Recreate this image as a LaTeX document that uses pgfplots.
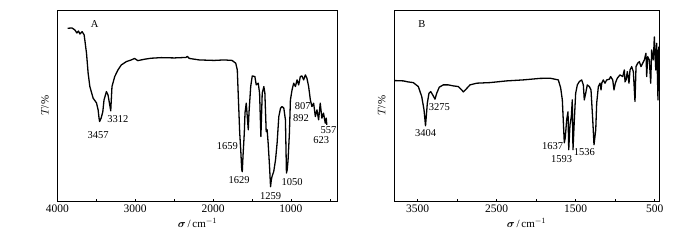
\documentclass[border=0pt]{standalone}
\usepackage{pgfplots}
\pgfplotsset{compat=1.18}
\usepackage{fontspec}
\setmainfont{Liberation Serif}
\usepackage{bm}
\begin{document}
\begin{tikzpicture}
\useasboundingbox (0pt,0pt) rectangle (700pt,242pt);
\pgfplotsset{ftir/.style={
  scale only axis, height=191.7pt, ymin=0, ymax=192, ytick=\empty,
  x dir=reverse, tick align=inside, xtick pos=bottom, major tick length=3pt,
  axis line style={line width=1pt}, every tick/.style={line width=0.8pt, black},
  tick label style={font=\fontsize{11.5}{13}\selectfont},
  /pgf/number format/assume math mode=true,
  /pgf/number format/set thousands separator={},
  xlabel={$\bm{\sigma}$\,/\,cm$^{-1}$}, ylabel={$T$/\%},
  label style={font=\fontsize{11}{13}\selectfont},
  xlabel style={at={(axis description cs:0.5,-0.113)}, anchor=center},
  clip=false, anchor=south west}}
% Panel A
\begin{axis}[ftir, at={(57.3pt,40.3pt)}, width=280.4pt, xmin=400, xmax=4000,
  xtick={500,1000,...,4000}, xticklabels={,1000,,2000,,3000,,4000},
  ylabel style={at={(axis description cs:-0.044,0.5)}, anchor=center}]
\addplot[black, line width=1.3pt, line join=round] coordinates {
(3867,173.7) (3812,174) (3774,172) (3748,169) (3729,171) (3710,168) (3681,170.3) (3655,167)
(3625,148.7) (3604,128.7) (3582,115.3) (3540,103.7) (3497,99) (3476,92) (3464,83.7) (3457,80.3)
(3436,84) (3416,90) (3400,102) (3369,110.3) (3349,107) (3327,97) (3314,91) (3298,115.3)
(3263,125.3) (3221,132) (3178,137) (3114,140.3) (3050,142) (3008,143.5) (2966,141.3) (2880,142.7)
(2795,143.7) (2667,144.3) (2497,144) (2348,144.5) (2331,145.5) (2305,143.5) (2178,142) (1986,141.5)
(1858,142) (1756,141.5) (1709,138.7) (1689,132) (1676,105.3) (1658,69) (1645,52) (1632,32)
(1625,30) (1616,45.3) (1599,69) (1590,89) (1574,98.7) (1561,85.3) (1548,72) (1539,89)
(1517,115.3) (1497,126) (1463,125.3) (1446,117) (1420,118.7) (1403,108.7) (1386,65.3) (1369,108.7)
(1348,115.3) (1335,108.7) (1318,70.3) (1306,72) (1293,58.7) (1275,35.3) (1262,15) (1252,22)
(1243,25.3) (1221,30.3) (1198,42) (1178,58.7) (1156,85.3) (1134,93.7) (1114,95.3) (1092,93.7)
(1071,82) (1058,28.7) (1048,32) (1037,42) (1020,68.7) (1007,102) (986,112) (965,118.7)
(943,115.3) (922,122) (901,117) (880,125.3) (859,126) (837,122) (815,127) (795,123.7)
(773,115.3) (751,102) (731,95.3) (709,98.7) (687,85.3) (666,92) (645,82) (624,98.7)
(603,83.7) (582,88.7) (560,78.7) (547,83.7) (540,77)
};
\begin{scope}[every node/.style={font=\fontsize{10.5}{12}\selectfont, inner sep=0pt}]
\node at (axis cs:3519,178) {A};
\node at (axis cs:3476,67) {3457};
\node at (axis cs:3221,82.7) {3312};
\node at (axis cs:1816,55.3) {1659};
\node at (axis cs:1667,22) {1629};
\node at (axis cs:1262,6) {1259};
\node at (axis cs:986,19.3) {1050};
\node at (axis cs:871,84) {892};
\node at (axis cs:850,95.3) {807};
\node at (axis cs:518,72) {557};
\node at (axis cs:611,61.3) {623};
\end{scope}
\end{axis}
% Panel B
\begin{axis}[ftir, at={(394pt,40.3pt)}, width=265pt, xmin=445, xmax=3800,
  xtick={500,1000,...,3500}, xticklabels={500,,1500,,2500,,3500},
  ylabel style={at={(axis description cs:-0.046,0.5)}, anchor=center}]
\addplot[black, line width=1.3pt, line join=round] coordinates {
(3787,121.3) (3682,121) (3623,120) (3556,119.3) (3492,115.3) (3449,105.3) (3420,92) (3401,76)
(3378,98.7) (3357,108.7) (3335,110.3) (3310,107) (3281,102.7) (3259,108.7) (3227,114.7) (3176,117)
(3113,117) (3049,116) (2986,115.3) (2943,112) (2923,110) (2888,112.7) (2838,117) (2753,118.7)
(2585,119.3) (2373,121) (2163,122) (1952,123.5) (1825,123.7) (1720,122) (1690,114) (1669,102)
(1644,59) (1632,64) (1614,82) (1597,90) (1588,52) (1572,77) (1555,85.3) (1543,102)
(1534,52) (1517,82) (1500,108.7) (1479,117) (1454,120.3) (1424,122) (1403,117) (1391,102)
(1373,108.7) (1353,117) (1327,115.3) (1306,112) (1284,82) (1268,57) (1246,72) (1234,98.7)
(1213,115.3) (1192,118.7) (1179,112) (1170,118.7) (1150,122) (1129,118.7) (1107,122) (1074,122.7)
(1057,125.3) (1031,122) (1015,112) (998,118.7) (973,123.7) (939,127) (904,125.3) (884,132)
(875,120) (862,122) (846,130.3) (825,118.7) (812,132) (791,135.3) (770,130.3) (749,100.3)
(736,135.3) (715,138.7) (694,140.3) (673,135.3) (651,138.7) (631,142) (610,148.7) (601,125.3)
(588,145.3) (568,142) (550,118.7) (538,152) (517,142) (504,165) (486,132) (474,158.7)
(458,102) (449,155.3)
};
\begin{scope}[every node/.style={font=\fontsize{10.5}{12}\selectfont, inner sep=0pt}]
\node at (axis cs:3446,178) {B};
\node at (axis cs:3399,68.7) {3404};
\node at (axis cs:3227,94.3) {3275};
\node at (axis cs:1791,55.3) {1637};
\node at (axis cs:1677,43) {1593};
\node at (axis cs:1391,49.7) {1536};
\end{scope}
\end{axis}
\end{tikzpicture}
\end{document}
